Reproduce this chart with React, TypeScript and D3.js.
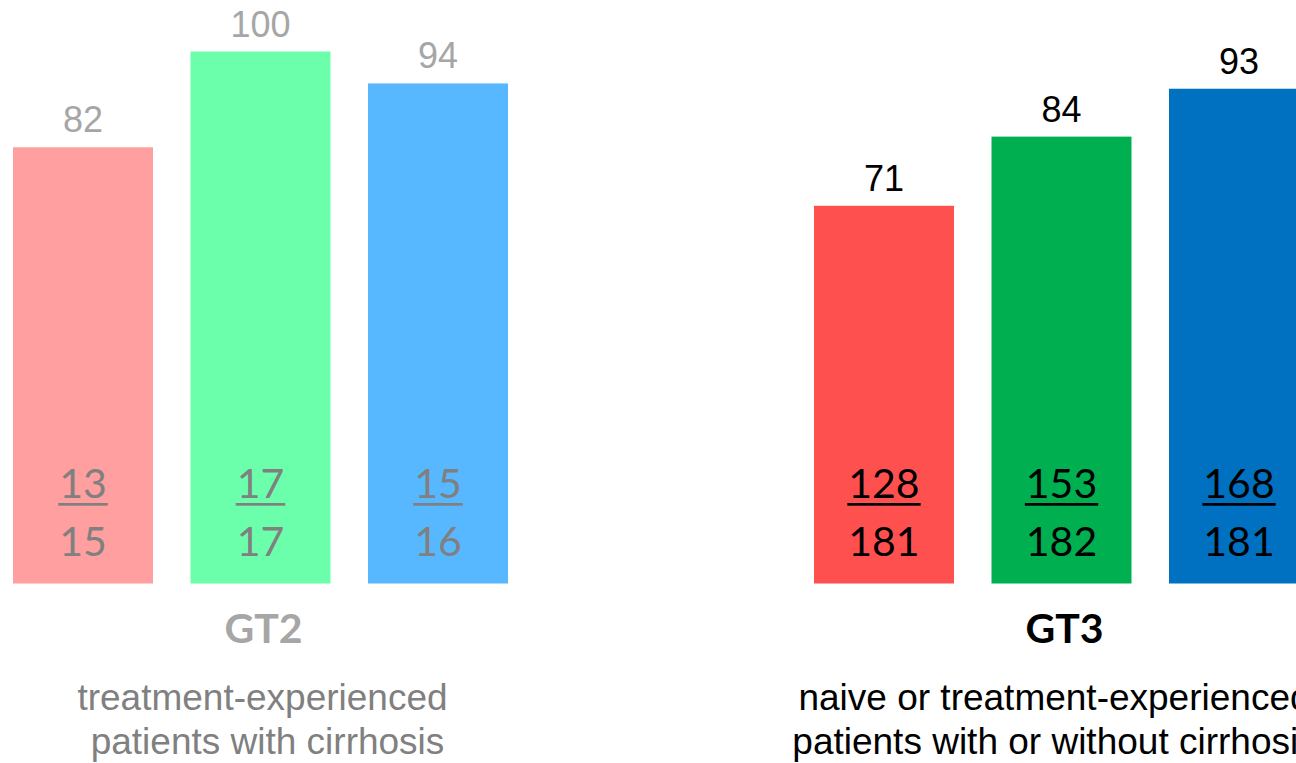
import React, { useEffect, useRef } from "react";
import * as d3 from "d3";

// SVR rates (%) per genotype group, three regimens each
const groups = ["GT2", "GT3"];
const regimens = ["A", "B", "C"];
const gt2Rates = [82, 100, 94];
const gt3Rates = [71, 84, 93];
const gt2Responders = [13, 17, 15];
const gt2Totals = [15, 17, 16];
const gt3Responders = [128, 153, 168];
const gt3Totals = [181, 182, 181];
const gt2Caption = ["treatment-experienced", "patients with cirrhosis"];
const gt3Caption = ["naive or treatment-experienced", "patients with or without cirrhosis"];

const gt2Colors = ["#FF9F9F", "#6CFFAB", "#57B7FF"];
const gt3Colors = ["#FF5050", "#00B050", "#0070C0"];

const W = 1296;
const H = 763;

export default function App() {
  const ref = useRef<SVGSVGElement | null>(null);

  useEffect(() => {
    const svg = d3.select(ref.current);
    svg.selectAll("*").remove();

    const x0 = d3.scaleBand<string>().domain(groups).range([13, 1309]).paddingInner(0.382).paddingOuter(0);
    const x1 = d3
      .scaleBand<string>()
      .domain(regimens)
      .range([0, x0.bandwidth()])
      .paddingInner(0.2113)
      .paddingOuter(0);
    const y = d3.scaleLinear().domain([0, 100]).range([583.5, 51.5]);

    const groupData = [
      {
        name: "GT2",
        rates: gt2Rates,
        resp: gt2Responders,
        tot: gt2Totals,
        colors: gt2Colors,
        caption: gt2Caption,
        valueColor: "#A6A6A6",
        fracColor: "#808080",
        titleColor: "#A6A6A6",
        captionColor: "#808080",
        captionDx: [-1, 4],
      },
      {
        name: "GT3",
        rates: gt3Rates,
        resp: gt3Responders,
        tot: gt3Totals,
        colors: gt3Colors,
        caption: gt3Caption,
        valueColor: "#000000",
        fracColor: "#000000",
        titleColor: "#000000",
        captionColor: "#000000",
        captionDx: [-10, -10],
      },
    ];

    groupData.forEach((g) => {
      const gx = x0(g.name) as number;
      const gEl = svg.append("g").attr("transform", `translate(${gx},0)`);
      regimens.forEach((r, i) => {
        const bx = x1(r) as number;
        const bw = x1.bandwidth();
        const cx = bx + bw / 2;
        gEl
          .append("rect")
          .attr("x", bx)
          .attr("y", y(g.rates[i]))
          .attr("width", bw)
          .attr("height", y(0) - y(g.rates[i]))
          .attr("fill", g.colors[i]);

        gEl
          .append("text")
          .attr("x", cx)
          .attr("y", y(g.rates[i]) - 15)
          .attr("text-anchor", "middle")
          .attr("font-family", "'Liberation Sans', Arial, sans-serif")
          .attr("font-size", 36)
          .attr("fill", g.valueColor)
          .text(g.rates[i]);

        const num = gEl
          .append("text")
          .attr("x", cx)
          .attr("y", 498)
          .attr("text-anchor", "middle")
          .attr("font-family", "Lato, 'Open Sans', sans-serif")
          .attr("font-size", 41)
          .attr("fill", g.fracColor)
          .text(g.resp[i]);
        const len = (num.node() as SVGTextElement).getComputedTextLength();
        gEl
          .append("rect")
          .attr("x", cx - len / 2 - 1)
          .attr("y", 503)
          .attr("width", len + 2)
          .attr("height", 2.7)
          .attr("fill", g.fracColor);

        gEl
          .append("text")
          .attr("x", cx)
          .attr("y", 556)
          .attr("text-anchor", "middle")
          .attr("font-family", "Lato, 'Open Sans', sans-serif")
          .attr("font-size", 41)
          .attr("fill", g.fracColor)
          .text(g.tot[i]);
      });

      const mid = x0.bandwidth() / 2 + 3;
      gEl
        .append("text")
        .attr("x", mid)
        .attr("y", 643)
        .attr("text-anchor", "middle")
        .attr("font-family", "Lato, 'Open Sans', sans-serif")
        .attr("font-weight", 700)
        .attr("font-size", 41)
        .attr("fill", g.titleColor)
        .text(g.name);

      g.caption.forEach((line, li) => {
        gEl
          .append("text")
          .attr("x", mid + g.captionDx[li])
          .attr("y", 710 + li * 44)
          .attr("text-anchor", "middle")
          .attr("font-family", "'Liberation Sans', Arial, sans-serif")
          .attr("font-size", 37)
          .attr("fill", g.captionColor)
          .text(line);
      });
    });
  }, []);

  return (
    <svg
      ref={ref}
      width={W}
      height={H}
      style={{ position: "absolute", left: 0, top: 0, background: "#fff", overflow: "hidden" }}
    />
  );
}
